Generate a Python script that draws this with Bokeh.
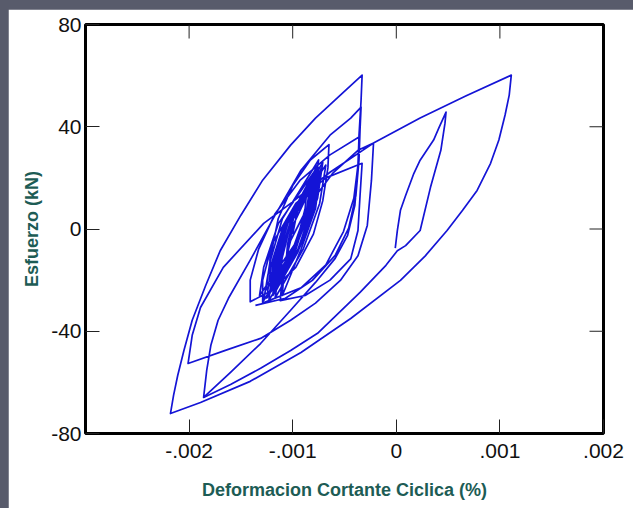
from bokeh.plotting import figure
from bokeh.models import Range1d, FixedTicker
from bokeh.layouts import column
from bokeh.embed import file_html
from bokeh.resources import INLINE

# ---- tick positions and labels ----
x_ticks = [-0.002, -0.001, 0.0, 0.001, 0.002]
x_tick_labels = ["-.002", "-.001", "0", ".001", ".002"]
y_ticks = [-80, -40, 0, 40, 80]
y_tick_labels = ["-80", "-40", "0", "40", "80"]

# ---- data (strain in units of 0.001 %, stress in kN) ----
# small cycles (dense cluster)
cluster_strain = [-1.00,
    -0.96, -0.91, -0.86, -0.88, -0.96, -1.07,
    -1.05, -0.97, -0.80, -0.84, -0.97, -1.12,
    -1.10, -1.00, -0.75, -0.80, -0.95, -1.19,
    -1.16, -1.04, -0.71, -0.76, -0.92, -1.23,
    -1.20, -1.08, -0.77, -0.82, -1.00, -1.28,
    -1.24, -1.10, -0.68, -0.74, -0.90, -1.17,
    -1.13, -1.02, -0.73, -0.78, -0.92, -1.10,
    -1.08, -0.99, -0.78, -0.84, -1.02, -1.26,
    -1.22, -1.10, -0.75, -0.80, -0.98, -1.32,
    -1.28, -1.14, -0.80, -0.86, -1.00, -1.20,
    -1.17, -1.04, -0.83, -0.87, -0.98, -1.14,
    -1.11, -1.00, -0.78, -0.82, -0.95, -1.16,
    -1.13, -1.01, -0.74, -0.80, -0.95, -1.22,
    -1.19, -1.06, -0.76, -0.81, -0.97, -1.21,
    -1.15, -1.03, -0.79, -0.84, -0.97, -1.18,
    -1.14, -1.02, -0.72, -0.78, -0.93, -1.25,
    -1.21, -1.07, -0.77, -0.83, -0.99, -1.19,
    -1.16, -1.04, -0.81, -0.85, -0.99, -1.21]
cluster_stress = [-2,
    6, 13, 17, 8, -5, -16,
    -6, 8, 22, 9, -8, -21,
    -10, 6, 24, 10, -8, -26,
    -14, 4, 26, 12, -6, -28,
    -17, 0, 21, 8, -10, -28,
    -18, 0, 25, 10, -8, -27,
    -16, 2, 23, 8, -8, -26,
    -14, 2, 20, 6, -10, -24,
    -13, 4, 27, 12, -6, -26,
    -15, 2, 22, 8, -8, -23,
    -12, 3, 18, 6, -6, -20,
    -9, 5, 19, 5, -9, -24,
    -12, 4, 22, 8, -8, -25,
    -14, 2, 25, 10, -6, -22,
    -10, 4, 21, 7, -7, -24,
    -12, 3, 24, 9, -7, -27,
    -15, 2, 23, 8, -8, -25,
    -13, 3, 20, 6, -8, -22]

# medium cycles
medium_strain = [
    -1.22, -1.14, -1.00, -0.83, -0.65, -0.66, -0.71, -0.80, -0.97, -1.20, -1.41,
    -1.41, -1.33, -1.17, -0.93, -0.64, -0.36, -0.37, -0.41, -0.51, -0.68, -0.92, -1.29,
    -1.29, -1.20, -0.97, -0.68, -0.33, -0.35, -0.37, -0.44, -0.64, -0.88, -1.12,
    -1.10, -1.02, -0.85, -0.61, -0.37, -0.22, -0.24, -0.28, -0.37, -0.54, -0.78,
    -1.02, -1.31, -1.65, -2.01]
medium_stress = [
    -12, 4, 17, 27, 33, 24, 11, -2, -15, -24, -28.5,
    -20, -8, 6, 19, 29, 36, 25, 12, -1, -14, -23, -29,
    -20, -6, 10, 20, 25.7, 13, -0.6, -11.7, -20, -26, -28,
    -18, -4.5, 9, 22, 30.8, 33.6, 19, 1.4, -10.5, -20.1, -29,
    -35.7, -42.8, -47.5, -52.6]

# large cycles
large_strain = [
    -1.97, -1.89, -1.67, -1.28, -1.02, -0.64, -0.22, 0.23, 0.67, 1.11,
    1.09, 1.05, 0.99, 0.91, 0.78, 0.64, 0.49, 0.28, 0.04, -0.44, -0.92, -1.41, -1.89, -2.18,
    -2.15, -2.11, -2.05, -1.97, -1.84, -1.70, -1.50, -1.29, -1.02, -0.78, -0.54, -0.33,
    -0.34, -0.36, -0.37, -0.40, -0.47, -0.59, -0.78, -1.02, -1.31, -1.60, -1.86,
    -1.83, -1.79, -1.72, -1.62, -1.41, -1.17, -0.92, -0.64, -0.44, -0.34,
    -0.35, -0.36, -0.39, -0.46, -0.59, -0.81, -1.07, -1.36]
large_stress = [
    -41.6, -30.7, -15.0, 2.2, 10.0, 22.2, 33.6, 43.4, 52.0, 60.2,
    52.4, 44.6, 34.8, 25.7, 15.1, 7.3, -0.6, -10.5, -20.1, -35.0, -48.3, -59.6, -67.9, -72.2,
    -65.1, -57.3, -47.5, -35.7, -22.1, -8.5, 5.4, 19.1, 32.8, 43.4, 52.4, 60.2,
    50.4, 36.7, 23.0, 9.3, -2.5, -11.5, -20.9, -31.8, -44.8, -56.1, -65.9,
    -55.3, -45.5, -35.7, -27.1, -12.2, 5.4, 23.0, 36.7, 43.4, 47.7,
    38.7, 26.9, 13.1, 0.3, -10.3, -20.1, -27.1, -29.9]

# inner positive-side cycle
inner_strain = [-1.86, -1.60, -1.31, -1.02, -0.76, -0.35, -0.10, 0.01, 0.09, 0.23, 0.33,
                0.43, 0.47, 0.48, 0.41, 0.36, 0.23, 0.17, 0.09, 0.04, 0.01, -0.01]
inner_stress = [-65.9, -60.8, -54.5, -47.5, -40.8, -24.8, -14.2, -8.5, -6.5, -0.6, 16.3,
                 30.8, 41.4, 45.7, 39.5, 34.8, 26.9, 21.8, 13.1, 7.3, -0.6, -7.5]

STRAIN_UNIT = 1e-3
main_x = [v * STRAIN_UNIT for v in cluster_strain + medium_strain + large_strain]
main_y = cluster_stress + medium_stress + large_stress
inner_x = [v * STRAIN_UNIT for v in inner_strain]
inner_y = inner_stress

LINE_COLOR = "#1414d6"
LABEL_COLOR = "#1d5c55"
TICK_COLOR = "#222222"
FONT = "Liberation Sans"

W, H = 625, 499
B_LEFT, B_RIGHT, B_TOP, B_BOTTOM = 77, 30, 15, 75
X0, X1 = -0.003, 0.002
Y0, Y1 = -80, 80
TICK_LEN_PX = 14

p = figure(width=W, height=H,
           x_range=Range1d(X0, X1), y_range=Range1d(Y0, Y1),
           output_backend="svg", toolbar_location=None,
           min_border_left=B_LEFT, min_border_right=B_RIGHT,
           min_border_top=B_TOP, min_border_bottom=B_BOTTOM,
           background_fill_color="white", border_fill_color="white",
           outline_line_color="black", outline_line_width=3)
p.grid.visible = False

p.multi_line(xs=[main_x, inner_x], ys=[main_y, inner_y],
             line_color=LINE_COLOR, line_width=1.7, line_join="round")

def style_axis(ax, ticks, labels):
    ax.ticker = FixedTicker(ticks=ticks)
    ax.major_label_overrides = {t: l for t, l in zip(ticks, labels)}
    ax.axis_line_color = None
    ax.major_tick_in = TICK_LEN_PX
    ax.major_tick_out = 0
    ax.minor_tick_in = 0
    ax.minor_tick_out = 0
    ax.major_tick_line_color = TICK_COLOR
    ax.major_tick_line_width = 1
    ax.major_label_text_font = FONT
    ax.major_label_text_font_size = "21px"
    ax.major_label_text_color = "#111111"
    ax.axis_label_text_font = FONT
    ax.axis_label_text_font_size = "18px"
    ax.axis_label_text_font_style = "bold"
    ax.axis_label_text_color = LABEL_COLOR

xa = p.xaxis[0]
style_axis(xa, x_ticks, x_tick_labels)
xa.axis_label = "Deformacion Cortante Ciclica (%)"
xa.major_label_standoff = 10
xa.axis_label_standoff = 19

ya = p.yaxis[0]
style_axis(ya, y_ticks, y_tick_labels)
ya.axis_label = "Esfuerzo (kN)"
ya.major_label_standoff = 4
ya.axis_label_standoff = 6

# inward ticks on the top and right frame edges (same tick positions)
frame_w = W - B_LEFT - B_RIGHT
frame_h = H - B_TOP - B_BOTTOM
dy = TICK_LEN_PX * (Y1 - Y0) / frame_h
dx = TICK_LEN_PX * (X1 - X0) / frame_w
top_x = [t for t in x_ticks if X0 < t < X1]
right_y = [t for t in y_ticks if Y0 < t < Y1]
p.segment(x0=top_x, x1=top_x, y0=[Y1] * len(top_x), y1=[Y1 - dy] * len(top_x),
          line_color=TICK_COLOR, line_width=1)
p.segment(x0=[X1] * len(right_y), x1=[X1 - dx] * len(right_y), y0=right_y, y1=right_y,
          line_color=TICK_COLOR, line_width=1)

p.margin = (9, 0, 0, 8)
page = column(p, styles={"background-color": "#585b6b"})

open("out.html", "w").write(file_html(page, INLINE))
